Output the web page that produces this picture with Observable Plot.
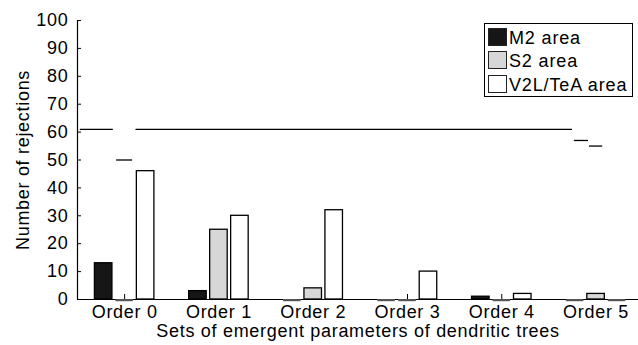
<!DOCTYPE html>
<html>
<head>
<meta charset="utf-8">
<script src="https://cdn.jsdelivr.net/npm/d3@7"></script>
<script src="https://cdn.jsdelivr.net/npm/@observablehq/plot@0.6"></script>
<style>
  html, body { margin: 0; padding: 0; background: #fff; }
  #wrap { position: relative; width: 638px; height: 345px; font-family: "Liberation Sans", Arial, Helvetica, sans-serif; }
  #legend { position: absolute; left: 484px; top: 23px; width: 149px; height: 74px; box-sizing: border-box; border: 1px solid #000; background: #fff; }
  .sw { position: absolute; left: 3px; width: 19px; height: 18px; box-sizing: border-box; border: 1px solid #222; }
  .lt { position: absolute; left: 24px; font-size: 18px; line-height: 18px; letter-spacing: 0.85px; color: #000; white-space: nowrap; }
</style>
</head>
<body>
<div id="wrap"><div id="legend"></div></div>
<script>
// ---- data ----
const orders = ["Order 0", "Order 1", "Order 2", "Order 3", "Order 4", "Order 5"];
const areas = ["M2 area", "S2 area", "V2L/TeA area"];
const m2Values  = [13, 3, 0, 0, 1, 0];
const s2Values  = [0, 25, 4, 0, 0, 2];
const v2lValues = [46, 30, 32, 10, 2, 0];
const yTicks = [0, 10, 20, 30, 40, 50, 60, 70, 80, 90, 100];
// threshold segments (start/end in order-index units, value)
const thresholdFrom  = [-0.47, -0.085, 0.12, 4.77, 4.93];
const thresholdTo    = [-0.12, 0.085, 4.75, 4.92, 5.07];
const thresholdValue = [61, 50, 61, 57, 55];
const yLabel = "Number of rejections";
const xLabel = "Sets of emergent parameters of dendritic trees";

// ---- build tables ----
const series = [m2Values, s2Values, v2lValues];
const colors = ["#161616", "#d7d7d7", "#ffffff"];
const offsets = [-0.2225, 0, 0.2225];
const halfW = 0.093;
const bars = [];
orders.forEach((o, i) => areas.forEach((a, k) => bars.push({order: i, area: k, value: series[k][i]})));
const thresholds = thresholdValue.map((v, i) => ({x1: thresholdFrom[i], x2: thresholdTo[i], y: v}));
const bx1 = d => d.order + offsets[d.area] - halfW;
const bx2 = d => d.order + offsets[d.area] + halfW;

const chart = Plot.plot({
  width: 638,
  height: 345,
  marginLeft: 77,
  marginRight: 0,
  marginTop: 20,
  marginBottom: 46,
  style: {fontSize: "18px", fontFamily: "'Liberation Sans', Arial, Helvetica, sans-serif", letterSpacing: "0.7px", color: "#000", background: "#fff"},
  x: {type: "linear", domain: [-0.5, 5.45]},
  y: {domain: [0, 100]},
  marks: [
    Plot.axisY({ticks: yTicks, tickSize: -4, tickPadding: 13, label: null, stroke: "#000"}),
    Plot.axisX({ticks: d3.range(orders.length), tickSize: -5, tickPadding: 11, tickFormat: i => orders[i], label: null, stroke: "#000"}),
    Plot.ruleY([0], {stroke: "#000", strokeWidth: 1.2}),
    Plot.ruleX([-0.5], {stroke: "#000", strokeWidth: 1.2}),
    Plot.ruleY(bars.filter(d => d.value === 0), {x1: bx1, x2: bx2, y: 0, dy: 0.6, stroke: "#555", strokeWidth: 2.2}),
    Plot.rectY(bars.filter(d => d.value > 0), {
      x1: bx1,
      x2: bx2,
      y1: 0,
      y2: d => d.value,
      fill: d => colors[d.area],
      stroke: "#000",
      strokeWidth: 1.3
    }),
    Plot.ruleY(thresholds, {x1: "x1", x2: "x2", y: "y", stroke: "#000", strokeWidth: 1.3}),
    Plot.text([yLabel], {frameAnchor: "left", rotate: -90, dx: -54, textAnchor: "middle", lineAnchor: "middle", fill: "#000"}),
    Plot.text([xLabel], {frameAnchor: "bottom", dy: 32, textAnchor: "middle", lineAnchor: "middle", fill: "#000"})
  ]
});
document.getElementById("wrap").prepend(chart);

// legend
const legend = document.getElementById("legend");
areas.forEach((a, k) => {
  const top = 4 + k * 23.4;
  const sw = document.createElement("div");
  sw.className = "sw";
  sw.style.top = top + "px";
  sw.style.background = colors[k];
  legend.appendChild(sw);
  const t = document.createElement("div");
  t.className = "lt";
  t.style.top = (top + 1) + "px";
  t.textContent = a;
  legend.appendChild(t);
});
</script>
</body>
</html>
